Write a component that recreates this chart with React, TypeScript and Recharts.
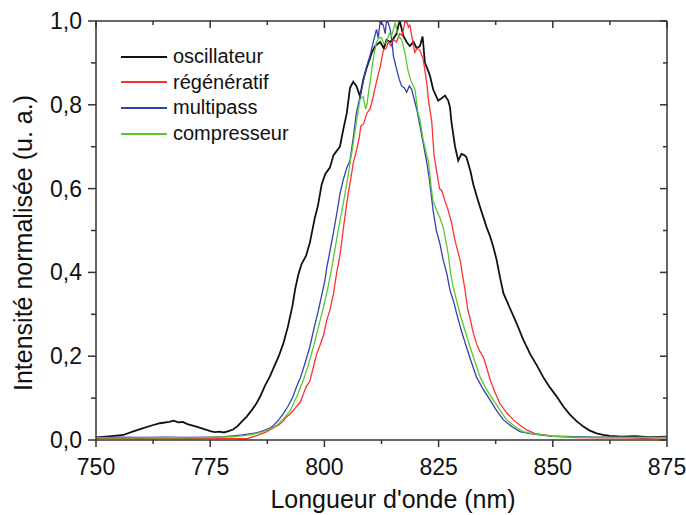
import React from 'react';
import { LineChart, Line, XAxis, YAxis } from 'recharts';

// spectra: [longueur d'onde (nm), intensité normalisée]
const oscillateur: [number, number][] = [
  [750, 0.006], [752, 0.008], [754, 0.01], [756, 0.012], [758, 0.02], [760, 0.027], [762, 0.034],
  [764, 0.04], [766, 0.043], [767, 0.046], [768, 0.042], [769, 0.043], [770, 0.038], [772, 0.032],
  [774, 0.025], [775, 0.021], [776, 0.019], [777, 0.02], [778, 0.018], [779, 0.021], [780, 0.025],
  [781, 0.033], [782, 0.045], [783, 0.056], [784, 0.07], [785, 0.085], [786, 0.105], [787, 0.13],
  [788, 0.15], [789, 0.175], [790, 0.2], [791, 0.23], [792, 0.27], [793, 0.32], [793.6, 0.36],
  [794.3, 0.395], [795, 0.42], [796, 0.44], [796.8, 0.47], [797.9, 0.53], [798.6, 0.56], [799.4, 0.61],
  [800.2, 0.635], [801.2, 0.65], [802, 0.68], [802.7, 0.69], [803.4, 0.7], [804.2, 0.745], [804.9, 0.78],
  [805.6, 0.84], [806.3, 0.855], [807, 0.845], [807.8, 0.82], [808.5, 0.86], [809.3, 0.89], [810.4, 0.925],
  [811.1, 0.94], [812.2, 0.95], [813, 0.935], [813.6, 0.955], [814.4, 0.95], [815.1, 0.958], [815.8, 0.97],
  [816.2, 0.99], [816.5, 1.0], [817.3, 0.964], [818, 0.95], [818.7, 0.94], [819.5, 0.95], [820.2, 0.935],
  [820.9, 0.94], [821.5, 0.963], [822, 0.9], [822.4, 0.89], [823.1, 0.87], [823.8, 0.837], [824.9, 0.81],
  [825.6, 0.815], [826.4, 0.822], [827.1, 0.81], [827.5, 0.794], [827.8, 0.76], [828.6, 0.7], [829.3, 0.667],
  [830, 0.683], [830.6, 0.68], [831.1, 0.675], [832, 0.64], [832.6, 0.61], [833.4, 0.58], [834.1, 0.555],
  [835.5, 0.508], [836.3, 0.485], [837, 0.46], [837.7, 0.43], [838.5, 0.385], [839.2, 0.35], [840.6, 0.315],
  [842.1, 0.278], [843.5, 0.24], [845, 0.206], [846.5, 0.178], [847.9, 0.15], [849.4, 0.125], [850.9, 0.103],
  [852.3, 0.08], [853.8, 0.06], [855.2, 0.045], [856.7, 0.032], [858, 0.023], [859.6, 0.016], [861, 0.012],
  [862.5, 0.01], [865, 0.008], [868, 0.009], [871, 0.007], [875, 0.008],
];

const regeneratif: [number, number][] = [
  [750, 0.004], [755, 0.004], [760, 0.003], [765, 0.004], [770, 0.003], [775, 0.004], [780, 0.004],
  [783, 0.003], [785, 0.01], [786.5, 0.016], [787.4, 0.02], [788.1, 0.024], [789, 0.03], [790, 0.036],
  [791, 0.045], [791.7, 0.055], [792.5, 0.062], [793.5, 0.075], [794.7, 0.09], [795.4, 0.11], [796, 0.127],
  [796.8, 0.14], [797.5, 0.17], [798.3, 0.205], [799, 0.225], [799.8, 0.25], [800.5, 0.285], [801.2, 0.31],
  [802, 0.35], [802.7, 0.4], [803.4, 0.44], [804.1, 0.5], [804.7, 0.55], [805.2, 0.587], [805.8, 0.625],
  [806.3, 0.66], [807, 0.69], [807.6, 0.72], [808, 0.75], [808.6, 0.755], [809.3, 0.78], [810, 0.79],
  [810.7, 0.82], [811.5, 0.86], [812.2, 0.89], [812.9, 0.93], [813.5, 0.935], [814, 0.95], [814.6, 0.94],
  [815.1, 0.956], [815.8, 0.95], [816.5, 0.97], [817, 0.965], [817.6, 0.996], [818, 1.0], [818.4, 0.985],
  [818.7, 0.99], [819.2, 0.96], [819.8, 0.925], [820.3, 0.935], [820.9, 0.93], [821.6, 0.91], [822.4, 0.853],
  [822.8, 0.81], [823.5, 0.76], [824, 0.68], [824.6, 0.64], [825.2, 0.6], [825.7, 0.595], [826.4, 0.57],
  [827.1, 0.548], [827.8, 0.52], [828.6, 0.476], [829.2, 0.45], [829.7, 0.43], [830.3, 0.39], [830.8, 0.357],
  [831.4, 0.31], [831.9, 0.29], [832.6, 0.255], [833.3, 0.23], [834, 0.212], [834.8, 0.198], [835.6, 0.17],
  [836.3, 0.143], [837.3, 0.115], [838.4, 0.087], [839.9, 0.065], [841.4, 0.048], [842.8, 0.035],
  [844.3, 0.024], [846, 0.016], [847.9, 0.012], [850, 0.009], [852, 0.008], [855, 0.006], [860, 0.005],
  [865, 0.005], [870, 0.004], [875, 0.005],
];

const multipass: [number, number][] = [
  [750, 0.006], [755, 0.007], [760, 0.006], [765, 0.007], [770, 0.006], [775, 0.007], [778, 0.008],
  [780, 0.01], [782, 0.012], [784, 0.015], [785.5, 0.018], [786.8, 0.023], [788, 0.028], [788.8, 0.034],
  [790, 0.048], [791, 0.063], [792, 0.08], [793, 0.1], [793.9, 0.127], [794.8, 0.15], [795.8, 0.185],
  [796.8, 0.222], [797.8, 0.27], [798.7, 0.31], [799.4, 0.345], [800.1, 0.38], [800.5, 0.41], [801.2, 0.45],
  [801.9, 0.49], [802.7, 0.54], [803.4, 0.587], [804.1, 0.62], [804.9, 0.65], [805.6, 0.667], [806.3, 0.72],
  [807, 0.78], [807.8, 0.82], [808.4, 0.85], [808.9, 0.877], [809.5, 0.9], [810, 0.917], [810.7, 0.95],
  [811.4, 0.98], [811.8, 0.96], [812.2, 1.0], [812.9, 0.99], [813.3, 0.97], [813.6, 1.0], [814, 0.995],
  [814.4, 0.98], [814.8, 0.95], [815.1, 0.917], [815.8, 0.885], [816.4, 0.86], [816.9, 0.845], [817.5, 0.84],
  [818, 0.83], [818.6, 0.845], [819.1, 0.837], [819.5, 0.82], [820.2, 0.79], [820.9, 0.75], [821.6, 0.71],
  [822.4, 0.663], [823, 0.62], [823.8, 0.548], [824.5, 0.5], [825.3, 0.468], [826, 0.43], [826.8, 0.397],
  [827.5, 0.357], [828.3, 0.33], [829, 0.3], [830, 0.26], [831.1, 0.222], [832.2, 0.185], [833.3, 0.15],
  [834.8, 0.12], [836.3, 0.095], [837.7, 0.07], [839.2, 0.048], [841, 0.032], [842.8, 0.02], [845, 0.015],
  [847.2, 0.012], [850, 0.009], [855, 0.008], [860, 0.007], [865, 0.007], [870, 0.006], [875, 0.007],
];

const compresseur: [number, number][] = [
  [750, 0.005], [755, 0.005], [760, 0.005], [765, 0.006], [770, 0.005], [775, 0.006], [780, 0.008],
  [782, 0.01], [784, 0.013], [786, 0.018], [788, 0.025], [789.6, 0.035], [791, 0.05], [792.5, 0.07],
  [794, 0.105], [795.4, 0.143], [796.5, 0.18], [797.6, 0.222], [798.7, 0.27], [799.8, 0.317], [800.9, 0.37],
  [801.6, 0.41], [802.3, 0.455], [803, 0.5], [803.8, 0.545], [804.5, 0.587], [805.1, 0.625], [805.6, 0.66],
  [806.2, 0.7], [806.8, 0.745], [807.3, 0.78], [807.8, 0.813], [808.5, 0.82], [809, 0.79], [809.3, 0.8],
  [809.8, 0.84], [810.2, 0.87], [810.7, 0.91], [811.4, 0.95], [812, 0.96], [812.5, 0.96], [813, 0.945],
  [813.6, 0.95], [814.2, 0.97], [814.7, 0.964], [815.1, 0.98], [815.5, 0.996], [816, 0.97], [816.2, 0.964],
  [816.9, 0.956], [817.6, 0.925], [818, 0.9], [818.4, 0.877], [819.1, 0.853], [819.8, 0.837], [820.5, 0.78],
  [820.9, 0.765], [821.6, 0.718], [822.4, 0.68], [822.8, 0.663], [823.4, 0.6], [823.8, 0.57], [824.6, 0.548],
  [825.3, 0.53], [826, 0.508], [826.5, 0.48], [827.1, 0.444], [827.6, 0.4], [828.2, 0.365], [829, 0.33],
  [829.7, 0.3], [830.8, 0.26], [831.9, 0.222], [833, 0.185], [834.1, 0.15], [835.5, 0.12], [837, 0.095],
  [838.5, 0.07], [839.9, 0.048], [841.7, 0.032], [843.5, 0.02], [845.5, 0.015], [847.9, 0.012], [850, 0.009],
  [855, 0.007], [860, 0.006], [865, 0.006], [870, 0.006], [875, 0.006],
];

const xTicks = [750, 762.5, 775, 787.5, 800, 812.5, 825, 837.5, 850, 862.5, 875];
const yTicks = [0, 0.1, 0.2, 0.3, 0.4, 0.5, 0.6, 0.7, 0.8, 0.9, 1.0];

const series = [
  { name: 'oscillateur', data: oscillateur, color: '#111111', width: 1.8 },
  { name: 'régénératif', data: regeneratif, color: '#ff3030', width: 1.3 },
  { name: 'multipass', data: multipass, color: '#3340b0', width: 1.3 },
  { name: 'compresseur', data: compresseur, color: '#5cc830', width: 1.3 },
];

const FONT = '"Liberation Sans", Arial, Helvetica, sans-serif';
const AXIS = '#333';

const isMajorX = (v: number) => v % 25 === 0;
const isMajorY = (v: number) => Math.round(v * 10) % 2 === 0;

const BottomTick = (props: any) => {
  const { x, y, payload } = props;
  const major = isMajorX(payload.value);
  return (
    <g>
      <line x1={x} y1={y} x2={x} y2={y + (major ? 7 : 4)} stroke={AXIS} strokeWidth={1.5} />
      {major && (
        <text x={x} y={y + 35} textAnchor="middle" fontSize={23} fontFamily={FONT} fill="#111">
          {payload.value}
        </text>
      )}
    </g>
  );
};

const TopTick = (props: any) => {
  const { x, y, payload } = props;
  const major = isMajorX(payload.value);
  return <line x1={x} y1={y} x2={x} y2={y + (major ? 7 : 4)} stroke={AXIS} strokeWidth={1.5} />;
};

const LeftTick = (props: any) => {
  const { x, y, payload } = props;
  const major = isMajorY(payload.value);
  return (
    <g>
      <line x1={x - (major ? 8 : 5)} y1={y} x2={x} y2={y} stroke={AXIS} strokeWidth={1.5} />
      {major && (
        <text x={x - 14} y={y + 8} textAnchor="end" fontSize={23} fontFamily={FONT} fill="#111">
          {payload.value.toFixed(1).replace('.', ',')}
        </text>
      )}
    </g>
  );
};

const RightTick = (props: any) => {
  const { x, y, payload } = props;
  const major = isMajorY(payload.value);
  return <line x1={x - (major ? 7 : 4)} y1={y} x2={x} y2={y} stroke={AXIS} strokeWidth={1.5} />;
};

export default function App() {
  return (
    <div style={{ position: 'absolute', left: 0, top: 0, width: 686, height: 515, background: '#fff' }}>
      <LineChart width={686} height={515} margin={{ top: 20, right: 18, bottom: 0, left: 0 }}>
        <XAxis
          xAxisId="b"
          type="number"
          dataKey="x"
          domain={[750, 875]}
          ticks={xTicks}
          interval={0}
          allowDataOverflow
          height={75}
          tickSize={0}
          tickMargin={0}
          tickLine={false}
          axisLine={{ stroke: AXIS, strokeWidth: 1.5 }}
          tick={<BottomTick />}
          label={{
            content: () => (
              <text x={393} y={508} textAnchor="middle" fontSize={25} fontFamily={FONT} fill="#111">
                Longueur d'onde (nm)
              </text>
            ),
          }}
        />
        <XAxis
          xAxisId="t"
          orientation="top"
          type="number"
          dataKey="x"
          domain={[750, 875]}
          ticks={xTicks}
          interval={0}
          allowDataOverflow
          height={1}
          tickSize={0}
          tickMargin={0}
          tickLine={false}
          axisLine={{ stroke: AXIS, strokeWidth: 1.5 }}
          tick={<TopTick />}
        />
        <YAxis
          yAxisId="l"
          type="number"
          domain={[0, 1]}
          ticks={yTicks}
          interval={0}
          allowDataOverflow
          width={96}
          tickSize={0}
          tickMargin={0}
          tickLine={false}
          axisLine={{ stroke: AXIS, strokeWidth: 1.5 }}
          tick={<LeftTick />}
          label={{
            content: () => (
              <text
                transform="translate(32, 243) rotate(-90)"
                textAnchor="middle"
                fontSize={25}
                fontFamily={FONT}
                fill="#111"
              >
                Intensité normalisée (u. a.)
              </text>
            ),
          }}
        />
        <YAxis
          yAxisId="r"
          orientation="right"
          type="number"
          domain={[0, 1]}
          ticks={yTicks}
          interval={0}
          allowDataOverflow
          width={1}
          tickSize={0}
          tickMargin={0}
          tickLine={false}
          axisLine={{ stroke: AXIS, strokeWidth: 1.5 }}
          tick={<RightTick />}
        />
        {series.map((s) => (
          <Line
            key={s.name}
            xAxisId="b"
            yAxisId="l"
            data={s.data.map(([x, y]) => ({ x, y }))}
            dataKey="y"
            name={s.name}
            type="linear"
            stroke={s.color}
            strokeWidth={s.width}
            dot={false}
            isAnimationActive={false}
          />
        ))}
      </LineChart>
      <div style={{ position: 'absolute', left: 121, top: 44, fontFamily: FONT, fontSize: 20, color: '#111' }}>
        {series.map((s) => (
          <div key={s.name} style={{ display: 'flex', alignItems: 'center', height: 25.6 }}>
            <div style={{ width: 46, height: 2, background: s.color, marginRight: 6 }} />
            <span>{s.name}</span>
          </div>
        ))}
      </div>
    </div>
  );
}
